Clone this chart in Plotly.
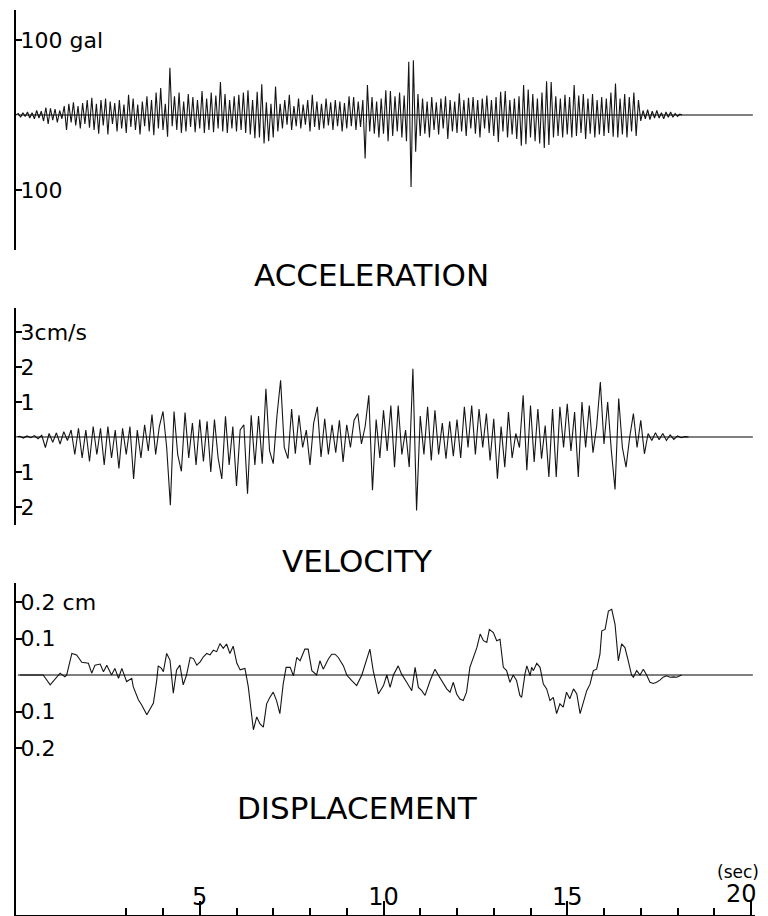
import plotly.graph_objects as go

W, H = 768, 916

# ---------------- data (read from the record) ----------------
# Acceleration (gal), sampled every ACC_DT seconds starting at t = 0
ACC_DT = 0.0625
acc_values = [
    0, 2, -3, 3, -2, 4, -4, 3, -5, 6, -4, 5, -8, 10, -12, 9,
    -7, 8, -10, 6, -5, 12, -20, 15, -10, 17, -14, 12, -18, 16, -12, 20,
    -17, 23, -20, 15, -25, 20, -14, 22, -26, 18, -12, 16, -22, 20, -18, 14,
    -24, 27, -16, 22, -20, 14, -26, 18, -15, 25, -22, 20, -27, 30, -18, 36,
    -20, 15, -29, 63, -15, 25, -20, 30, -24, 18, -22, 28, -16, 24, -23, 20,
    -18, 32, -24, 22, -20, 30, -23, 26, -18, 44, -22, 28, -24, 20, -18, 25,
    -22, 27, -20, 30, -24, 33, -26, 20, -31, 31, -30, 41, -38, 17, -35, 15,
    -30, 38, -22, 15, -18, 20, -13, 27, -20, 12, -15, 22, -18, 14, -13, 20,
    -22, 27, -16, 18, -20, 15, -18, 22, -14, 17, -20, 20, -15, 18, -22, 16,
    -18, 25, -15, 24, -20, 18, -16, 20, -58, 40, -22, 24, -25, 18, -30, 22,
    -25, 33, -35, 32, -28, 25, -22, 30, -30, 26, -35, 71, -96, 73, -49, 28,
    -28, 22, -25, 18, -30, 24, -20, 17, -26, 22, -18, 25, -32, 20, -22, 18,
    -24, 29, -22, 20, -28, 23, -18, 24, -25, 20, -30, 22, -18, 26, -24, 20,
    -28, 24, -36, 31, -22, 32, -30, 20, -26, 22, -32, 25, -41, 40, -39, 34,
    -30, 28, -35, 22, -38, 30, -44, 45, -40, 44, -30, 25, -28, 22, -30, 27,
    -26, 24, -30, 40, -28, 26, -24, 28, -32, 22, -25, 28, -30, 20, -26, 24,
    -28, 22, -24, 30, -29, 42, -30, 22, -26, 28, -30, 24, -22, 30, -28, 20,
    -8, 6, -5, 7, -6, 5, -4, 6, -4, 3, -5, 4, -3, 4, -3, 2,
    -2, 1, 0,
]

# Velocity (cm/s), sampled every VEL_DT seconds starting at t = 0
VEL_DT = 0.1
vel_values = [
    0, 0.02, -0.03, 0.03, -0.02, 0.04, -0.05, 0.05, -0.3, 0.1,
    -0.15, 0.12, -0.2, 0.15, -0.1, 0.2, -0.5, 0.25, -0.6, 0.2,
    -0.7, 0.3, -0.5, 0.25, -0.8, 0.3, -0.6, 0.2, -0.9, 0.25,
    -0.5, 0.3, -1.2, 0.2, -0.6, 0.35, -0.4, 0.64, -0.5, 0.3,
    0.73, -0.3, -1.95, 0.73, -0.5, -0.98, 0.7, -0.6, 0.4, -0.8,
    0.5, -0.7, 0.45, -1.0, 0.5, -0.6, -1.2, 0.59, -0.8, 0.3,
    -1.4, 0.2, 0.35, -1.62, 0.62, -0.8, 0.6, -0.76, 1.38, -0.4,
    -0.76, 0.6, 1.62, -0.3, -0.62, 0.8, -0.48, 0.62, -0.3, 0.2,
    -0.8, 0.4, 0.86, -0.57, 0.52, -0.5, 0.35, -0.45, 0.48, -0.71,
    0.35, -0.3, 0.48, 0.67, -0.2, 0.3, 1.19, -1.52, 0.5, -0.6,
    0.76, -0.4, 0.9, -0.86, 0.9, -0.5, 0.2, -0.86, 1.95, -2.1,
    0.6, -0.5, 0.86, -0.67, 0.76, -0.5, 0.4, -0.62, 0.45, -0.55,
    0.5, -0.6, 0.86, -0.3, 0.9, -0.5, 0.8, -0.3, 0.67, -0.67,
    0.52, -1.19, 0.3, -0.86, 0.71, -0.6, 0.1, -0.3, 1.19, -0.95,
    0.9, -0.71, 0.8, -0.62, 0.33, -1.14, 0.8, -1.14, 0.86, -0.3,
    0.95, -0.4, 0.71, -1.14, 1.0, -0.3, 0.9, -0.45, 0.3, 1.57,
    -0.2, 1.0, -0.4, -1.5, 1.1, -0.3, -0.86, 0.0, 0.67, -0.3,
    0.48, -0.48, 0.1, -0.1, 0.12, -0.08, 0.1, -0.1, 0.06, -0.07,
    0.03, -0.02, 0.01, 0,
]

# Displacement (cm): times (s) and values
disp_t = [
    0.11, 0.74, 0.93, 1.06, 1.20, 1.33, 1.38, 1.52, 1.65, 1.79, 1.97, 2.06, 2.15, 2.29,
    2.38, 2.47, 2.60, 2.69, 2.79, 2.88, 3.01, 3.15, 3.19, 3.33, 3.42, 3.56, 3.65, 3.74,
    3.83, 3.87, 3.96, 4.01, 4.10, 4.19, 4.28, 4.37, 4.46, 4.55, 4.64, 4.74, 4.83, 4.92,
    5.01, 5.10, 5.19, 5.28, 5.37, 5.46, 5.55, 5.64, 5.73, 5.82, 5.91, 6.01, 6.10, 6.23,
    6.32, 6.46, 6.55, 6.64, 6.73, 6.82, 6.91, 7.00, 7.09, 7.18, 7.27, 7.35, 7.46, 7.55,
    7.64, 7.73, 7.86, 7.95, 8.05, 8.18, 8.27, 8.36, 8.50, 8.59, 8.68, 8.77, 8.91, 9.00,
    9.13, 9.27, 9.41, 9.54, 9.63, 9.72, 9.86, 10.00, 10.09, 10.18, 10.27, 10.40, 10.49,
    10.63, 10.77, 10.86, 10.95, 11.04, 11.13, 11.27, 11.40, 11.49, 11.58, 11.72, 11.81,
    11.90, 11.99, 12.08, 12.17, 12.26, 12.35, 12.44, 12.54, 12.63, 12.72, 12.81, 12.88,
    12.99, 13.08, 13.17, 13.26, 13.35, 13.44, 13.53, 13.62, 13.71, 13.76, 13.85, 13.90,
    13.99, 14.03, 14.08, 14.17, 14.26, 14.35, 14.44, 14.53, 14.62, 14.71, 14.80, 14.89,
    14.98, 15.07, 15.17, 15.26, 15.35, 15.44, 15.53, 15.62, 15.71, 15.80, 15.89, 15.94,
    16.03, 16.12, 16.21, 16.30, 16.39, 16.48, 16.57, 16.66, 16.75, 16.80, 16.89, 16.98,
    17.07, 17.16, 17.25, 17.34, 17.43, 17.52, 17.61, 17.70, 17.80, 17.89, 17.98, 18.11,
]
disp_values = [
    0, 0, -0.027, -0.01, 0.005, -0.005, 0, 0.059, 0.055, 0.035, 0.032, 0.005, 0.027, 0.03,
    0.009, 0.027, 0, 0.018, -0.009, 0.018, -0.018, -0.009, -0.032, -0.068, -0.082, -0.109, -0.091, -0.077,
    -0.014, 0.025, 0.018, 0.009, 0.059, 0.041, -0.05, 0.014, 0.027, -0.027, 0, 0.048, 0.045, 0.027,
    0.036, 0.05, 0.059, 0.055, 0.068, 0.064, 0.086, 0.073, 0.085, 0.059, 0.079, 0.032, 0.014, 0.018,
    -0.032, -0.15, -0.115, -0.134, -0.143, -0.079, -0.061, -0.047, -0.07, -0.106, -0.025, 0.021, 0.021, -0.002,
    0.048, 0.039, 0.071, 0.071, 0.012, 0, 0.039, 0.016, 0.044, 0.057, 0.057, 0.048, 0.025, 0,
    -0.015, -0.029, 0, 0.039, 0.071, 0.012, -0.052, -0.029, 0, -0.034, 0, 0.025, 0.003,
    -0.02, -0.043, 0.021, -0.034, -0.043, -0.056, -0.015, 0.016, 0, -0.015, -0.038, -0.047,
    -0.02, -0.052, -0.066, -0.07, -0.047, 0.021, 0.048, 0.075, 0.112, 0.094, 0.089, 0.125,
    0.116, 0.094, 0.098, 0.021, 0.012, -0.02, 0, -0.015, -0.056, -0.061, 0.003, 0.025,
    -0.002, 0.021, 0.012, 0.032, 0.021, -0.025, -0.038, -0.07, -0.061, -0.106, -0.079, -0.088,
    -0.047, -0.065, -0.038, -0.052, -0.106, -0.075, -0.043, -0.025, 0.012, 0.016, 0.057, 0.121,
    0.125, 0.175, 0.18, 0.139, 0.039, 0.085, 0.075, 0.039, 0, -0.006, 0.012, 0,
    0.016, 0, -0.02, -0.023, -0.02, -0.014, -0.006, -0.002, -0.006, -0.005, -0.006, 0,
]

time_major = [5, 10, 15, 20]
time_major_text = ["5", "10", "15", ""]
time_end_label = "20"
time_minor = [1, 2, 3, 4, 6, 7, 8, 9, 11, 12, 13, 14, 16, 17, 18, 19]

acc_ticks = [100, -100]
acc_ticktext = ["100 gal", "100"]
vel_ticks = [3, 2, 1, -1, -2]
vel_ticktext = ["3cm/s", "2", "1", "1", "2"]
disp_ticks = [0.2, 0.1, -0.1, -0.2]
disp_ticktext = ["0.2 cm", "0.1", "0.1", "0.2"]

titles = ["ACCELERATION", "VELOCITY", "DISPLACEMENT"]
BASE_END = 20.05

# ---------------- layout helpers ----------------
PX_PER_S = 36.75
X0 = 16          # pixel of t = 0
X1 = 755


def py(ypx):
    return 1 - ypx / H


acc_t = [i * ACC_DT for i in range(len(acc_values))]
vel_t = [i * VEL_DT for i in range(len(vel_values))]

line_style = dict(color="#151515", width=1.1)
fig = go.Figure()
fig.add_trace(go.Scatter(x=acc_t, y=acc_values, mode="lines", line=line_style,
                         xaxis="x", yaxis="y", showlegend=False, hoverinfo="skip"))
fig.add_trace(go.Scatter(x=vel_t, y=vel_values, mode="lines", line=line_style,
                         xaxis="x", yaxis="y2", showlegend=False, hoverinfo="skip"))
fig.add_trace(go.Scatter(x=disp_t, y=disp_values, mode="lines", line=line_style,
                         xaxis="x", yaxis="y3", showlegend=False, hoverinfo="skip"))

FONT = "DejaVu Sans"
yax_common = dict(showline=True, linewidth=2, linecolor="black", showgrid=False,
                  zeroline=False, ticks="inside", ticklen=6, tickwidth=1.5,
                  tickcolor="black", ticklabelposition="inside", anchor="x",
                  tickfont=dict(family=FONT, size=22, color="black"), fixedrange=True)

acc_zero, acc_scale, acc_top, acc_bot = 115, 0.75, 10, 250
vel_zero, vel_scale, vel_top, vel_bot = 437, 35.0, 308, 525
dis_zero, dis_scale, dis_top, dis_bot = 675, 365.0, 583, 915

fig.update_layout(
    width=W, height=H, margin=dict(l=0, r=0, t=0, b=0),
    paper_bgcolor="white", plot_bgcolor="white",
    xaxis=dict(domain=[X0 / W, X1 / W], range=[0, (X1 - X0) / PX_PER_S], anchor="y3",
               showline=True, linewidth=2, linecolor="black", showgrid=False, zeroline=False,
               tickvals=time_major, ticktext=time_major_text, ticks="inside", ticklen=14,
               tickwidth=1.5, tickcolor="black", ticklabelposition="inside",
               ticklabelstandoff=-7,
               tickfont=dict(family=FONT, size=24, color="black"),
               minor=dict(tickvals=time_minor, ticks="inside", ticklen=7, tickwidth=1.5,
                          tickcolor="black", showgrid=False),
               fixedrange=True),
    yaxis=dict(domain=[py(acc_bot), py(acc_top)],
               range=[(acc_zero - acc_bot) / acc_scale, (acc_zero - acc_top) / acc_scale],
               tickvals=acc_ticks, ticktext=acc_ticktext, **yax_common),
    yaxis2=dict(domain=[py(vel_bot), py(vel_top)],
                range=[(vel_zero - vel_bot) / vel_scale, (vel_zero - vel_top) / vel_scale],
                tickvals=vel_ticks, ticktext=vel_ticktext, **yax_common),
    yaxis3=dict(domain=[py(dis_bot), py(dis_top)],
                range=[(dis_zero - dis_bot) / dis_scale, (dis_zero - dis_top) / dis_scale],
                tickvals=disp_ticks, ticktext=disp_ticktext, **yax_common),
)

# baselines
for yref in ["y", "y2", "y3"]:
    fig.add_shape(type="line", xref="x", yref=yref, x0=0.05, x1=BASE_END, y0=0, y1=0,
                  line=dict(color="black", width=1))

# last time label (drawn as annotation so it is not clipped at the axis end)
fig.add_annotation(text=time_end_label, x=time_major[-1], y=0, xref="x", yref="y3 domain",
                   showarrow=False, xanchor="center", yanchor="bottom", xshift=-10, yshift=6,
                   borderpad=0, font=dict(family=FONT, size=24, color="black"))

title_pos = [(371, 275), (357, 561), (357, 808)]
for txt, (xp, ypx) in zip(titles, title_pos):
    fig.add_annotation(text=txt, x=xp / W, y=py(ypx), xref="paper", yref="paper",
                       showarrow=False, xanchor="center", yanchor="middle",
                       font=dict(family=FONT, size=31, color="black"))

fig.add_annotation(text="(sec)", x=738 / W, y=py(872), xref="paper", yref="paper",
                   showarrow=False, xanchor="center", yanchor="middle", borderpad=0,
                   font=dict(family=FONT, size=17, color="black"))

fig.write_html("out.html")
